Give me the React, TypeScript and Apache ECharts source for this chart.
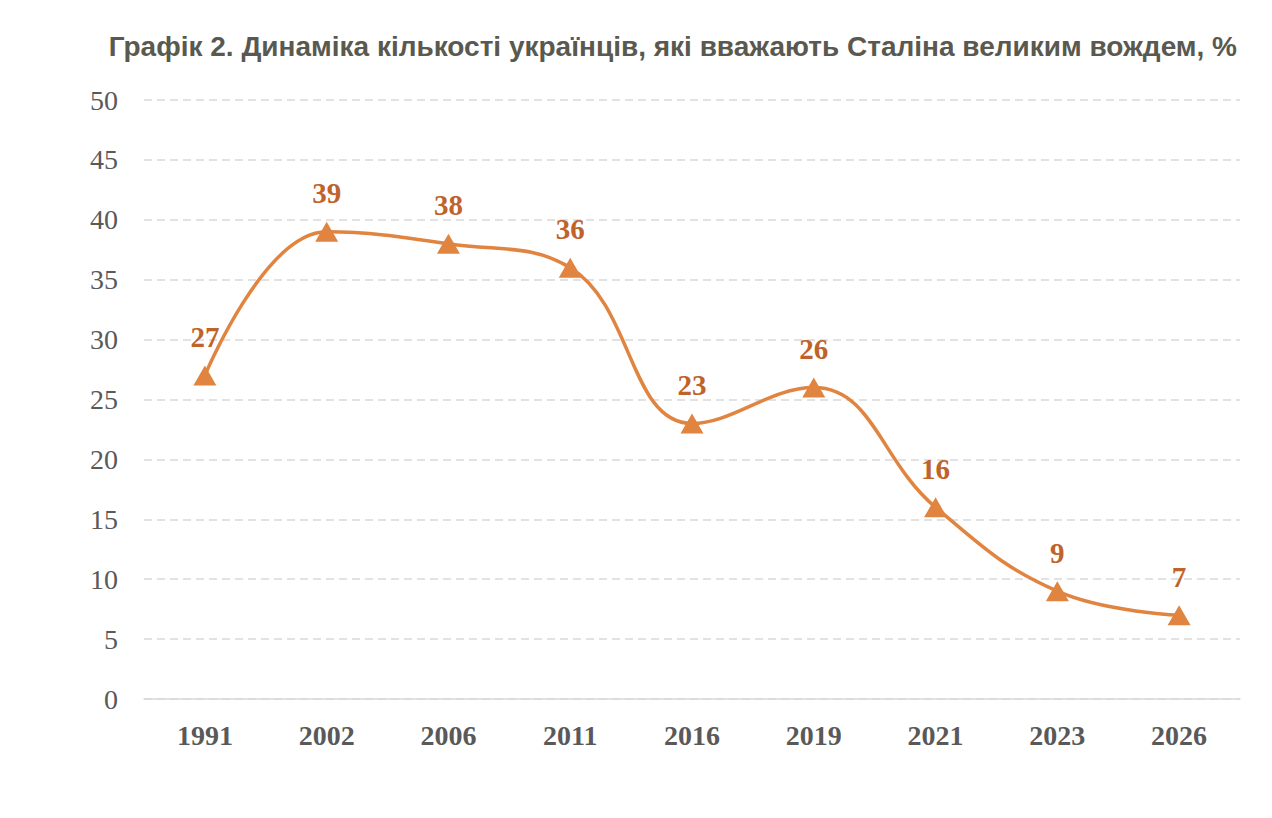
import { useEffect, useRef } from "react";
import * as echarts from "echarts";

const years = ["1991", "2002", "2006", "2011", "2016", "2019", "2021", "2023", "2026"];
const shares = [27, 39, 38, 36, 23, 26, 16, 9, 7];

const TITLE = "Графік 2. Динаміка кількості українців, які вважають Сталіна великим вождем, %";
const LINE = "#e0843f";
const LABEL = "#c0632b";
const GREY = "#595959";

export default function App() {
  const ref = useRef<HTMLDivElement>(null);

  useEffect(() => {
    if (!ref.current) return;
    const chart = echarts.init(ref.current, null, { renderer: "svg" });
    chart.setOption({
      animation: false,
      backgroundColor: "#ffffff",
      title: {
        text: TITLE,
        right: 30,
        top: 27,
        textStyle: {
          fontFamily: "Liberation Sans, Arial, sans-serif",
          fontSize: 28,
          fontWeight: "bold",
          color: "#595950",
        },
      },
      grid: { left: 144, right: 32, top: 100, bottom: 119 },
      xAxis: {
        type: "category",
        data: years,
        boundaryGap: true,
        axisLine: { show: true, lineStyle: { color: "#d9d9d9", width: 1.5 } },
        axisTick: { show: false },
        axisLabel: {
          margin: 22,
          fontFamily: "Liberation Serif, Times New Roman, serif",
          fontSize: 28,
          fontWeight: "bold",
          color: GREY,
        },
      },
      yAxis: {
        type: "value",
        min: 0,
        max: 50,
        interval: 5,
        axisLine: { show: false },
        axisTick: { show: false },
        axisLabel: {
          margin: 26,
          fontFamily: "Liberation Serif, Times New Roman, serif",
          fontSize: 28,
          color: GREY,
        },
        splitLine: { lineStyle: { color: "#d9d9d9", type: [8, 5], width: 1.5 } },
      },
      series: [
        {
          type: "line",
          data: shares,
          smooth: 0.42,
          symbol: "triangle",
          symbolSize: [23, 20],
          lineStyle: { color: LINE, width: 3.5 },
          itemStyle: { color: LINE },
          label: {
            show: true,
            position: "top",
            distance: 14,
            fontFamily: "Liberation Serif, Times New Roman, serif",
            fontSize: 29,
            fontWeight: "bold",
            color: LABEL,
          },
        },
      ],
    });
    return () => chart.dispose();
  }, []);

  return (
    <div
      ref={ref}
      style={{ position: "fixed", left: 0, top: 0, width: 1272, height: 818 }}
    />
  );
}
